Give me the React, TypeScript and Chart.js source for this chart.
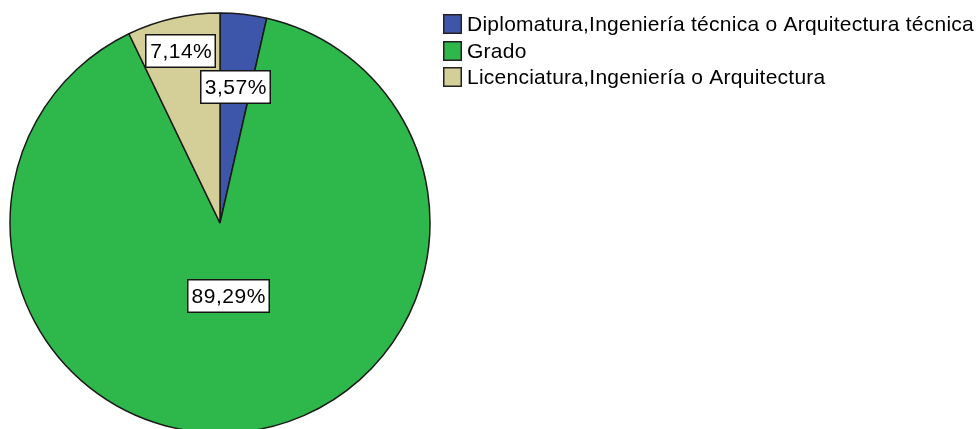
import React, { useEffect, useRef } from "react";
import { Chart, registerables } from "chart.js";

Chart.register(...registerables);

const categories = [
  "Diplomatura,Ingeniería técnica o Arquitectura técnica",
  "Grado",
  "Licenciatura,Ingeniería o Arquitectura",
];
const counts = [1, 25, 2];
const colors = ["#3e56aa", "#2eb84b", "#d4cf98"];
// radial position of each percentage label, as fraction of radius
const labelRadialFactor = [0.652, 0.35, 0.84];

const FONT = "21px 'Liberation Sans', Arial, sans-serif";

const overlayPlugin = {
  id: "overlay",
  afterDraw(chart: any) {
    const ctx = chart.ctx as CanvasRenderingContext2D;
    const meta = chart.getDatasetMeta(0);
    const data = chart.data.datasets[0].data as number[];
    const total = data.reduce((a, b) => a + b, 0);
    ctx.save();
    ctx.font = FONT;
    (ctx as any).letterSpacing = "0.5px";
    ctx.textBaseline = "middle";
    ctx.textAlign = "center";
    meta.data.forEach((arc: any, i: number) => {
      const p = arc.getProps(["x", "y", "startAngle", "endAngle", "outerRadius"], true);
      const mid = (p.startAngle + p.endAngle) / 2;
      const d = p.outerRadius * labelRadialFactor[i];
      const cx = p.x + Math.cos(mid) * d;
      const cy = p.y + Math.sin(mid) * d;
      const txt = ((data[i] / total) * 100).toFixed(2).replace(".", ",") + "%";
      const w = ctx.measureText(txt).width + 9;
      const h = 34;
      ctx.fillStyle = "#ffffff";
      ctx.fillRect(Math.round(cx - w / 2), Math.round(cy - h / 2), Math.round(w), h);
      ctx.strokeStyle = "#151515";
      ctx.lineWidth = 1.5;
      ctx.strokeRect(Math.round(cx - w / 2) + 0.75, Math.round(cy - h / 2) + 0.75, Math.round(w) - 1.5, h - 1.5);
      ctx.fillStyle = "#000000";
      ctx.fillText(txt, cx + 0.5, cy + 1);
    });
    ctx.restore();

    // legend
    ctx.save();
    ctx.font = FONT;
    (ctx as any).letterSpacing = "0.25px";
    ctx.textBaseline = "middle";
    ctx.textAlign = "left";
    const lx = 443;
    const ly = 14;
    const step = 26.5;
    chart.data.labels.forEach((lab: string, i: number) => {
      const y = Math.round(ly + i * step);
      ctx.fillStyle = colors[i];
      ctx.fillRect(lx, y, 19, 20);
      ctx.strokeStyle = "#222222";
      ctx.lineWidth = 1.5;
      ctx.strokeRect(lx + 0.75, y + 0.75, 17.5, 18.5);
      ctx.fillStyle = "#000000";
      ctx.fillText(lab, 467, y + 11);
    });
    ctx.restore();
  },
};

export default function App() {
  const ref = useRef<HTMLCanvasElement>(null);
  useEffect(() => {
    if (!ref.current) return;
    const chart = new Chart(ref.current, {
      type: "pie",
      data: {
        labels: categories,
        datasets: [
          {
            data: counts,
            backgroundColor: colors,
            borderColor: "#1a1a1a",
            borderWidth: 1.5,
            radius: 210,
            hoverOffset: 0,
          } as any,
        ],
      },
      options: {
        responsive: false,
        animation: false,
        devicePixelRatio: 1,
        layout: { padding: { left: 10, right: 547, top: 13, bottom: 0 } },
        plugins: {
          legend: { display: false },
          tooltip: { enabled: false },
        },
      },
      plugins: [overlayPlugin],
    });
    return () => chart.destroy();
  }, []);
  return (
    <div
      style={{
        position: "fixed",
        left: 0,
        top: 0,
        width: 977,
        height: 429,
        overflow: "hidden",
        background: "#ffffff",
      }}
    >
      <canvas ref={ref} width={977} height={433} style={{ display: "block" }} />
    </div>
  );
}
